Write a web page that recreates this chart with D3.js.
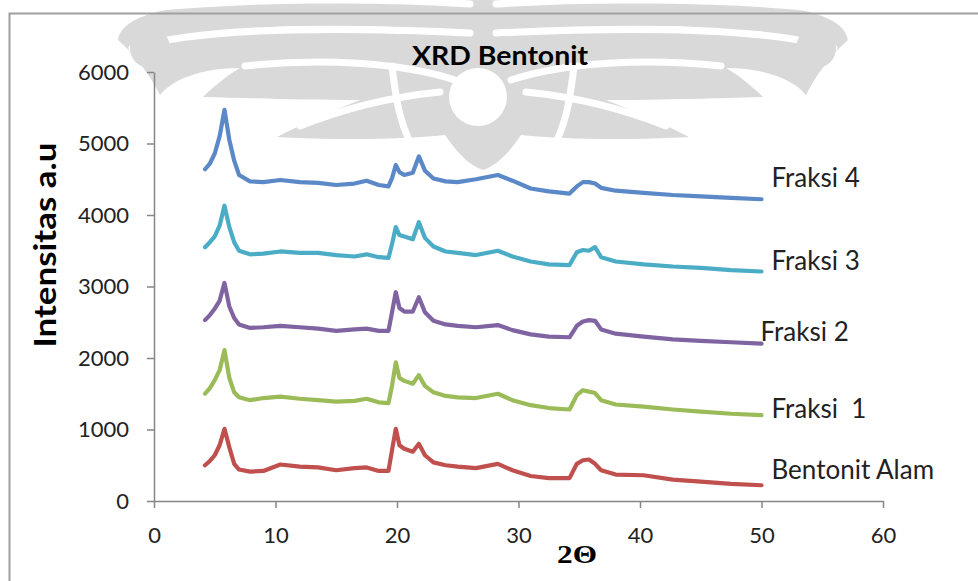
<!DOCTYPE html>
<html>
<head>
<meta charset="utf-8">
<script src="https://cdn.jsdelivr.net/npm/d3@7"></script>
<style>
  html, body { margin: 0; padding: 0; background: #ffffff; }
  svg { display: block; }
</style>
</head>
<body>
<svg id="chart" width="978" height="581"></svg>
<script>
// ---------------- DATA ----------------
const twoTheta = [4.2, 4.6, 5.0, 5.4, 5.8, 6.2, 6.6, 7.0, 7.9, 9, 10.4, 12, 13.5, 15, 16.5, 17.5, 18.5, 19.3, 19.6, 19.9, 20.2, 20.6, 21.3, 21.8, 22.3, 23.0, 24, 25, 26.5, 28.3, 29.5, 31, 32.5, 34.2, 34.8, 35.3, 35.8, 36.3, 36.8, 38, 40.3, 42.7, 45, 47.5, 50];

const bentonitAlam = [500, 560, 640, 780, 1010, 750, 520, 440, 410, 420, 510, 480, 470, 430, 460, 470, 420, 420, 720, 1010, 780, 730, 690, 800, 640, 540, 500, 480, 460, 520, 430, 350, 320, 320, 520, 570, 580, 520, 430, 370, 360, 300, 270, 240, 220];
const fraksi1 = [1500, 1580, 1690, 1830, 2110, 1720, 1520, 1450, 1410, 1440, 1460, 1430, 1410, 1390, 1400, 1430, 1380, 1370, 1620, 1940, 1720, 1680, 1640, 1760, 1610, 1520, 1470, 1450, 1440, 1500, 1410, 1340, 1300, 1280, 1480, 1550, 1530, 1510, 1410, 1350, 1320, 1280, 1250, 1220, 1200];
const fraksi2 = [2530, 2600, 2690, 2800, 3050, 2720, 2560, 2470, 2420, 2430, 2450, 2430, 2410, 2380, 2400, 2410, 2380, 2380, 2650, 2920, 2700, 2650, 2650, 2850, 2640, 2520, 2470, 2450, 2430, 2460, 2390, 2330, 2300, 2290, 2450, 2510, 2530, 2520, 2400, 2340, 2300, 2260, 2240, 2220, 2200];
const fraksi3 = [3550, 3620, 3700, 3850, 4130, 3830, 3620, 3500, 3450, 3460, 3490, 3470, 3470, 3440, 3420, 3450, 3410, 3400, 3600, 3830, 3720, 3700, 3660, 3900, 3680, 3560, 3490, 3470, 3440, 3500, 3420, 3350, 3310, 3300, 3480, 3510, 3500, 3550, 3410, 3350, 3310, 3280, 3260, 3230, 3210];
const fraksi4 = [4640, 4720, 4860, 5100, 5470, 5050, 4760, 4560, 4470, 4460, 4490, 4460, 4450, 4420, 4440, 4480, 4420, 4400, 4520, 4700, 4600, 4560, 4590, 4820, 4620, 4510, 4470, 4460, 4500, 4560, 4480, 4370, 4330, 4300, 4400, 4460, 4460, 4440, 4380, 4340, 4310, 4280, 4260, 4240, 4220];

const seriesNames = ["Bentonit Alam", "Fraksi  1", "Fraksi 2", "Fraksi 3", "Fraksi 4"];
const seriesValues = [bentonitAlam, fraksi1, fraksi2, fraksi3, fraksi4];
const seriesColors = ["#c0504d", "#9bbb59", "#8064a2", "#4bacc6", "#5b88c6"];

const xTicks = [0, 10, 20, 30, 40, 50, 60];
const yTicks = [0, 1000, 2000, 3000, 4000, 5000, 6000];

const chartTitle = "XRD Bentonit";
const xTitle = "2\u0398";
const yTitle = "Intensitas a.u";

// ---------------- LAYOUT ----------------
const svg = d3.select("#chart");
const x = d3.scaleLinear().domain([0, 60]).range([154, 883]);
const y = d3.scaleLinear().domain([0, 6000]).range([501, 72]);

// ---------------- WATERMARK ----------------
const wm = svg.append("g").attr("class", "watermark");
function wingHalf(g) {
  g.append("path")
    .attr("d", "M 118,40 C 122,15 170,4 250,2 L 483,0 L 483,170 C 468,165 455,150 445,135 C 400,140 330,140 277,137 C 300,125 330,112 360,100 C 300,100 250,98 203,97 C 215,85 228,75 240,68 C 200,68 172,80 160,95 C 150,75 135,55 118,40 Z")
    .attr("fill", "#d9d9d9");
  const stripes = [
    "M 132,48 C 200,28 320,26 470,33",
    "M 245,66 C 320,58 400,62 455,80",
    "M 300,126 C 350,106 400,96 440,92",
    "M 392,66 C 396,100 400,130 420,160",
    "M 150,8 C 250,-2 380,-2 470,4"
  ];
  stripes.forEach(s => g.append("path").attr("d", s).attr("fill", "none")
    .attr("stroke", "#ffffff").attr("stroke-width", 7).attr("stroke-linecap", "round"));
  g.append("circle").attr("cx", 150).attr("cy", 48).attr("r", 20).attr("fill", "#d9d9d9");
}
wingHalf(wm.append("g"));
wingHalf(wm.append("g").attr("transform", "translate(966,0) scale(-1,1)"));
wm.append("circle").attr("cx", 478).attr("cy", 97).attr("r", 29).attr("fill", "#ffffff");

// ---------------- BORDER ----------------
svg.append("path")
  .attr("d", "M 9.5,590 L 9.5,13.5 L 990,13.5")
  .attr("fill", "none").attr("stroke", "#a0a0a0").attr("stroke-width", 2);

// ---------------- AXES ----------------
const axisColor = "#868686";
const fontTick = "Lato, 'Open Sans', sans-serif";

const yAxis = svg.append("g").attr("transform", "translate(154,0)")
  .call(d3.axisLeft(y).tickValues(yTicks).tickSize(7).tickSizeOuter(0).tickPadding(18).tickFormat(d3.format("d")));
const xAxis = svg.append("g").attr("transform", "translate(0,501)")
  .call(d3.axisBottom(x).tickValues(xTicks).tickSize(7).tickSizeOuter(0).tickPadding(19).tickFormat(d3.format("d")));

[yAxis, xAxis].forEach(a => {
  a.select(".domain").attr("stroke", axisColor).attr("stroke-width", 1.5);
  a.selectAll(".tick line").attr("stroke", axisColor).attr("stroke-width", 1.5);
  a.selectAll(".tick text").attr("fill", "#222222").style("font-family", fontTick).style("font-size", "22px");
});

// ---------------- SERIES ----------------
const line = d3.line()
  .x((d, i) => x(twoTheta[i]))
  .y(d => y(d));

const plot = svg.append("g");
seriesValues.forEach((vals, k) => {
  plot.append("path")
    .datum(vals)
    .attr("d", line)
    .attr("fill", "none")
    .attr("stroke", seriesColors[k])
    .attr("stroke-width", 4.2)
    .attr("stroke-linejoin", "round")
    .attr("stroke-linecap", "round");
});

// Data labels at the end of each series
const labelDx = [10, 10, -1, 10, 10];
const labelBaselines = [479, 418, 340.5, 270, 186.5];
seriesNames.forEach((name, k) => {
  svg.append("text")
    .attr("x", x(twoTheta[twoTheta.length - 1]) + labelDx[k])
    .attr("y", labelBaselines[k])
    .attr("fill", "#222222")
    .style("font-family", fontTick)
    .style("font-size", "26px")
    .style("white-space", "pre")
    .attr("xml:space", "preserve")
    .text(name);
});

// ---------------- TITLES ----------------
svg.append("text")
  .attr("x", 500).attr("y", 65)
  .attr("text-anchor", "middle")
  .attr("textLength", 176).attr("lengthAdjust", "spacingAndGlyphs")
  .style("font-family", fontTick).style("font-weight", "bold").style("font-size", "27px")
  .attr("fill", "#000000")
  .text(chartTitle);

svg.append("text")
  .attr("transform", "translate(56,245) rotate(-90)")
  .attr("text-anchor", "middle")
  .attr("textLength", 205).attr("lengthAdjust", "spacingAndGlyphs")
  .style("font-family", fontTick).style("font-weight", "bold").style("font-size", "30px")
  .attr("fill", "#000000")
  .text(yTitle);

svg.append("text")
  .attr("x", 577).attr("y", 563)
  .attr("text-anchor", "middle")
  .attr("textLength", 40).attr("lengthAdjust", "spacingAndGlyphs")
  .style("font-family", "'Liberation Serif', 'DejaVu Serif', serif").style("font-weight", "bold").style("font-size", "25px")
  .attr("fill", "#000000")
  .text(xTitle);
</script>
</body>
</html>
